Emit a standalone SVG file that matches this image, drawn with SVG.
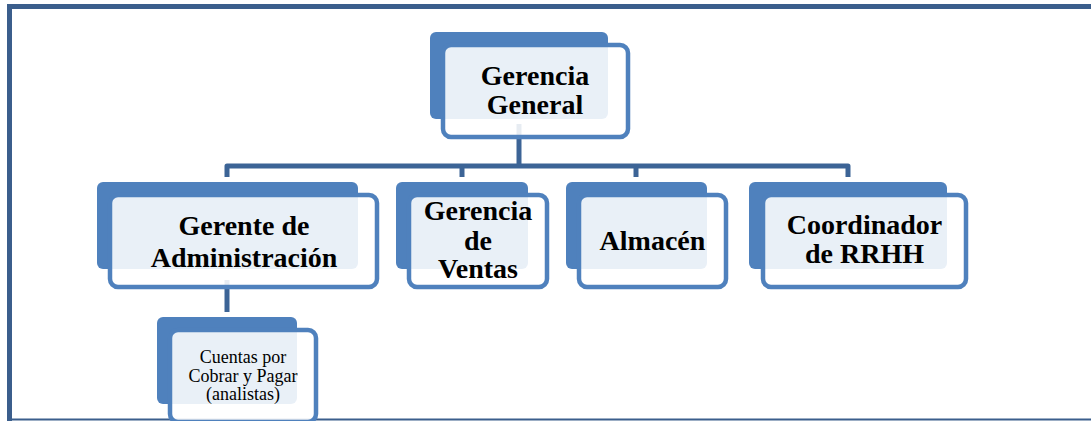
<svg xmlns="http://www.w3.org/2000/svg" width="1091" height="421" viewBox="0 0 1091 421">
<style>
.bg{fill:#fff}
.frame{fill:none;stroke:#3b5e8c;stroke-width:5}
.frameb{fill:none;stroke:#3b5e8c;stroke-width:2}
.back{fill:#4f81bd}
.front{fill:#fff;fill-opacity:0.88;stroke:#4f81bd;stroke-width:4.5}
.conn{fill:none;stroke:#3c6496;stroke-width:5;stroke-linejoin:round}
.t{font-family:"Liberation Serif","Times New Roman",serif;font-weight:bold;font-size:28px;fill:#000;text-anchor:middle}
.s{font-family:"Liberation Serif","Times New Roman",serif;font-size:18px;fill:#000;text-anchor:middle}
</style>
<rect class="bg" x="0" y="0" width="1091" height="421"/>
<path class="frame" d="M9.5 421 V6.5 H1091"/>
<line class="frameb" x1="9" y1="419.5" x2="1091" y2="419.5"/>
<g id="connectors">
<path class="conn" d="M519 124 V166"/>
<path class="conn" d="M227 177 V166 H848 V177"/>
<path class="conn" d="M462 166 V177"/>
<path class="conn" d="M636 166 V177"/>
<path class="conn" d="M227 280 V312"/>
</g>
<g id="gerencia-general">
<rect class="back" x="430" y="32" width="178" height="87" rx="6"/>
<rect class="front" x="443" y="45" width="185" height="92" rx="8"/>
<text class="t" x="535" y="85">Gerencia</text>
<text class="t" x="535" y="114">General</text>
</g>
<g id="gerente-administracion">
<rect class="back" x="97" y="182" width="261" height="87" rx="6"/>
<rect class="front" x="110" y="195" width="267" height="92" rx="8"/>
<text class="t" x="244" y="235">Gerente de</text>
<text class="t" x="244" y="267">Administración</text>
</g>
<g id="gerencia-ventas">
<rect class="back" x="396" y="182" width="132" height="87" rx="6"/>
<rect class="front" x="409" y="195" width="138" height="92" rx="8"/>
<text class="t" x="478" y="220">Gerencia</text>
<text class="t" x="478" y="250">de</text>
<text class="t" x="478" y="278">Ventas</text>
</g>
<g id="almacen">
<rect class="back" x="566" y="182" width="141" height="87" rx="6"/>
<rect class="front" x="579" y="195" width="147" height="92" rx="8"/>
<text class="t" x="652.5" y="250">Almacén</text>
</g>
<g id="coordinador-rrhh">
<rect class="back" x="749" y="182" width="198" height="87" rx="6"/>
<rect class="front" x="763" y="195" width="203" height="92" rx="8"/>
<text class="t" x="864.5" y="234">Coordinador</text>
<text class="t" x="864.5" y="263">de RRHH</text>
</g>
<g id="cuentas">
<rect class="back" x="157" y="317" width="140" height="87" rx="6"/>
<rect class="front" x="170" y="330" width="146" height="92" rx="8"/>
<text class="s" x="243" y="363">Cuentas por</text>
<text class="s" x="243" y="382">Cobrar y Pagar</text>
<text class="s" x="243" y="400">(analistas)</text>
</g>
</svg>
